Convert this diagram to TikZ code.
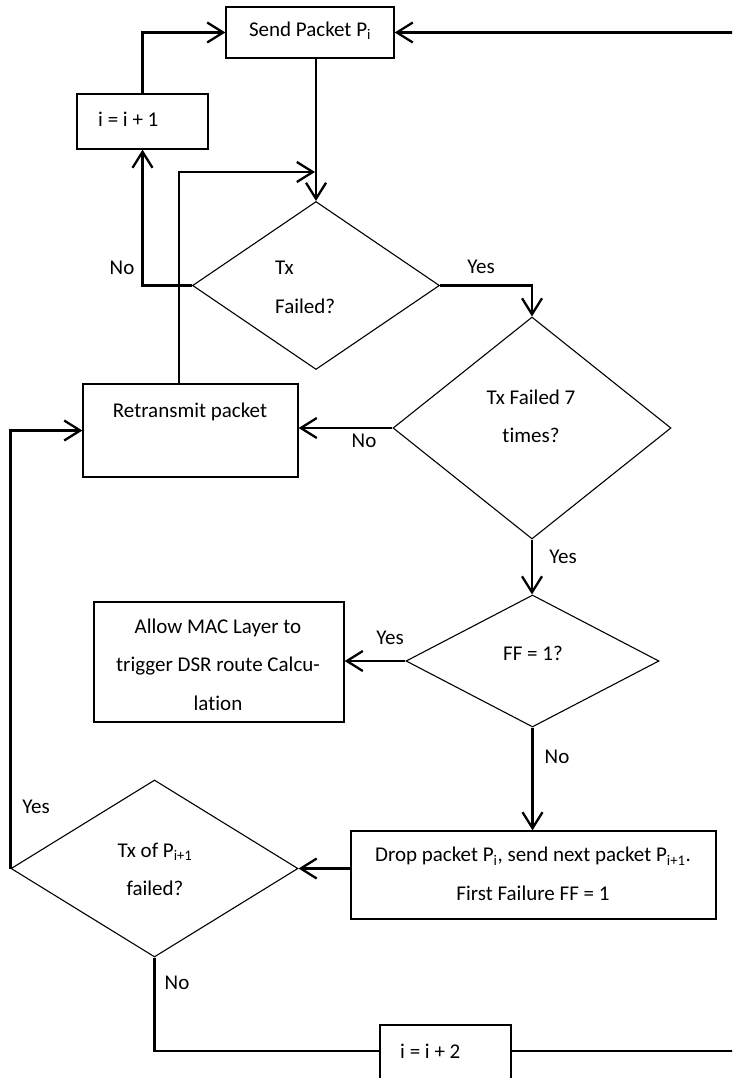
\documentclass[tikz,border=0pt]{standalone}
\usepackage{fontspec}
\setmainfont{Carlito}[Ligatures={NoCommon,NoContextual},RawFeature=-liga]
\usetikzlibrary{shapes.geometric,arrows.meta}
\begin{document}
\begin{tikzpicture}[x=1pt,y=-1pt,
  box/.style={draw, line width=1.3pt, rectangle, inner sep=0pt},
  decision/.style={draw, line width=1.1pt, diamond, inner sep=0pt},
  txt/.style={inner sep=0pt, font=\fontsize{21}{38.5}\selectfont},
  flow/.style={line width=2.3pt},
  arr/.style={flow, -{Straight Barb[length=16pt,width=20pt,line width=2.3pt]}}
]
\clip (0,0) rectangle (732,1078);

% process boxes
\node[box, minimum width=168pt, minimum height=51pt] (send) at (310,32.5) {};
\node[txt] (sendt) at (310,31) {Send Packet P\textsubscript{i}};
\node[box, minimum width=131pt, minimum height=55pt] (inc1) at (142.5,121.5) {};
\node[txt, anchor=west] (inc1t) at (98,119) {i = i + 1};
\node[box, minimum width=215pt, minimum height=93pt] (retx) at (190.5,430.5) {};
\node[txt] (retxt) at (190,412) {Retransmit packet};
\node[box, minimum width=250pt, minimum height=120pt] (allow) at (219,662) {};
\node[txt, align=center] (allowt) at (218,664.5) {Allow MAC Layer to\\trigger DSR route Calcu-\\lation};
\node[box, minimum width=365pt, minimum height=88pt] (drop) at (533.5,875) {};
\node[txt, align=center] (dropt) at (533,874) {Drop packet P\textsubscript{i}, send next packet P\textsubscript{i+1}.\\First Failure FF = 1};
\node[box, minimum width=131pt, minimum height=90pt] (inc2) at (445.5,1070) {};
\node[txt, anchor=west] (inc2t) at (400,1051) {i = i + 2};

% decisions
\node[decision, minimum width=247pt, minimum height=168pt] (dec1) at (316,285.5) {};
\node[txt, align=left, anchor=west] (dec1t) at (275,287.5) {Tx\\Failed?};
\node[decision, minimum width=278pt, minimum height=222pt] (dec2) at (532,428) {};
\node[txt, align=center] (dec2t) at (531,416.5) {Tx Failed 7\\times?};
\node[decision, minimum width=253pt, minimum height=132pt] (dec3) at (532.5,661) {};
\node[txt] (dec3t) at (533,653) {FF = 1?};
\node[decision, minimum width=287pt, minimum height=177pt] (dec4) at (154.5,868.5) {};
\node[txt, align=center] (dec4t) at (155,869.5) {Tx of P\textsubscript{i+1}\\failed?};

% helper points
\coordinate (rl) at (179,172);
\coordinate (join) at (315,172);
\coordinate (ln2) at (0,1051);
\coordinate (rt) at (745,0);

% connectors
\draw[arr] (inc1.north) |- (send.west);
\draw[arr] (dec1.north |- send.south) -- (dec1.north);
\draw[arr] (rl |- retx.north) -- (rl) -- (join);
\draw[arr] (dec1.west) -| (inc1.south);
\draw[arr] (dec1.east) -| (dec2.north);
\draw[arr] (dec2.west) -- (retx.east |- dec2.west);
\draw[arr] (dec2.south) -- (dec2.south |- dec3.north);
\draw[arr] (dec3.west) -- (allow.east |- dec3.west);
\draw[arr] (dec3.south) -- (dec3.south |- drop.north);
\draw[arr] (drop.west |- dec4.east) -- (dec4.east);
\draw[arr] (dec4.west) |- (retx.west);
\draw[flow] (dec4.south) |- (inc2.west |- ln2);
\draw[arr] (inc2.east |- ln2) -- (rt |- ln2) -- (rt |- send.east) -- (send.east);

% branch labels
\node[txt] (l1) at (122,268) {No};
\node[txt] (l2) at (481,267) {Yes};
\node[txt] (l3) at (364,441) {No};
\node[txt] (l4) at (563,557) {Yes};
\node[txt] (l5) at (390,638) {Yes};
\node[txt] (l6) at (557,757) {No};
\node[txt] (l7) at (36,807) {Yes};
\node[txt] (l8) at (177,983) {No};
\end{tikzpicture}
\end{document}
